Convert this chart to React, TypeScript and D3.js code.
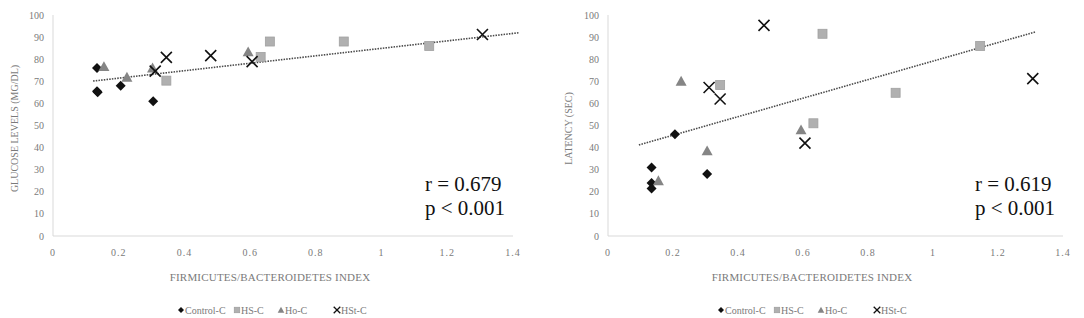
import React from "react";
import * as d3 from "d3";

// ---------- data ----------
const groups = ["Control-C", "HS-C", "Ho-C", "HSt-C"];
const xTicks = [0, 0.2, 0.4, 0.6, 0.8, 1, 1.2, 1.4];
const yTicks = [0, 10, 20, 30, 40, 50, 60, 70, 80, 90, 100];

// Glucose chart
const glucoseControl = [[0.134, 76], [0.134, 65.5], [0.136, 65], [0.206, 68], [0.305, 61]];
const glucoseHS = [[0.345, 70.3], [0.632, 81], [0.66, 88], [0.885, 88], [1.145, 86]];
const glucoseHo = [[0.155, 76.6], [0.225, 71.8], [0.303, 76], [0.594, 83.3]];
const glucoseHSt = [[0.311, 74.6], [0.345, 80.8], [0.48, 81.6], [0.606, 78.9], [1.307, 91.2]];
const glucoseTrend = [[0.122, 70.1], [1.42, 92]];
const glucoseStats = ["r = 0.679", "p < 0.001"];

// Latency chart
const latencyControl = [[0.134, 31], [0.134, 24], [0.134, 21.5], [0.206, 46], [0.305, 28]];
const latencyHS = [[0.345, 68.3], [0.632, 51], [0.66, 91.5], [0.885, 64.8], [1.145, 86]];
const latencyHo = [[0.155, 25], [0.225, 70], [0.305, 38.5], [0.594, 48]];
const latencyHSt = [[0.311, 67.2], [0.345, 62], [0.48, 95.3], [0.606, 42], [1.307, 71.2]];
const latencyTrend = [[0.095, 41.2], [1.314, 92.3]];
const latencyStats = ["r = 0.619", "p < 0.001"];

// ---------- styles ----------
const SERIF = "'Liberation Serif', 'DejaVu Serif', serif";
const TICK = "#7a7a7a";
const AXIS = "#d9d9d9";

type Pt = number[];

function Marker({ kind, x, y, s = 1 }: { kind: number; x: number; y: number; s?: number }) {
  if (kind === 0) {
    const r = 5 * s;
    return <path d={`M${x},${y - r}L${x + r},${y}L${x},${y + r}L${x - r},${y}Z`} fill="#111" />;
  }
  if (kind === 1) {
    const h = 4.5 * s;
    return <rect x={x - h} y={y - h} width={2 * h} height={2 * h} fill="#b0b0b0" stroke="#a0a0a0" strokeWidth={0.8} />;
  }
  if (kind === 2) {
    const w = 5.5 * s;
    return <path d={`M${x},${y - w}L${x + w},${y + w * 0.8}L${x - w},${y + w * 0.8}Z`} fill="#858585" />;
  }
  const r = 5.5 * s;
  return (
    <path d={`M${x - r},${y - r}L${x + r},${y + r}M${x - r},${y + r}L${x + r},${y - r}`} stroke="#111" strokeWidth={1.6 * Math.min(1, s + 0.2)} fill="none" />
  );
}

function Chart({
  left, right, top, bottom, titleX, legendX, yTitle, yTitleX, series, trend, stats,
}: {
  left: number; right: number; top: number; bottom: number; titleX: number; legendX: number;
  yTitle: string; yTitleX: number; series: Pt[][]; trend: Pt[]; stats: string[];
}) {
  const x = d3.scaleLinear().domain([0, 1.4]).range([left, right]);
  const y = d3.scaleLinear().domain([0, 100]).range([bottom, top]);
  const line = d3.line<Pt>().x((d) => x(d[0])).y((d) => y(d[1]));
  const legendOffsets = [0, 56, 100, 156];
  return (
    <g>
      {/* axes */}
      <line x1={left} x2={left} y1={top} y2={bottom} stroke={AXIS} strokeWidth={1} />
      <line x1={left} x2={right} y1={bottom} y2={bottom} stroke={AXIS} strokeWidth={1} />
      {yTicks.map((t) => (
        <text key={"y" + t} x={left - 9} y={y(t)} dy="0.35em" textAnchor="end" fontFamily={SERIF} fontSize={10} fill={TICK}>
          {t}
        </text>
      ))}
      {xTicks.map((t) => (
        <text key={"x" + t} x={x(t)} y={bottom + 20} textAnchor="middle" fontFamily={SERIF} fontSize={10} fill={TICK} letterSpacing={1}>
          {String(t)}
        </text>
      ))}
      <text x={titleX} y={bottom + 45} textAnchor="middle" fontFamily={SERIF} fontSize={11} fill={TICK} letterSpacing={0.2}>
        FIRMICUTES/BACTEROIDETES INDEX
      </text>
      <text transform={`translate(${yTitleX},${(top + bottom) / 2 + 3}) rotate(-90)`} textAnchor="middle" fontFamily={SERIF} fontSize={10} fill={TICK}>
        {yTitle}
      </text>
      {/* trend line */}
      <path d={line(trend) || ""} stroke="#4a4a4a" strokeWidth={1.6} strokeDasharray="1.5,1.2" fill="none" />
      {/* points */}
      {series.map((pts, k) =>
        pts.map((p, i) => <Marker key={k + "-" + i} kind={k} x={x(p[0])} y={y(p[1])} />)
      )}
      {/* stats */}
      {stats.map((s, i) => (
        <text key={s} x={right - 88} y={bottom - 45 + i * 24} fontFamily={SERIF} fontSize={21} fill="#111">
          {s}
        </text>
      ))}
      {/* legend */}
      {groups.map((g, k) => (
        <g key={g}>
          <Marker kind={k} x={legendX + legendOffsets[k] + 3} y={bottom + 74} s={0.6} />
          <text x={legendX + legendOffsets[k] + 7} y={bottom + 77.5} fontFamily={SERIF} fontSize={10} fill={TICK}>
            {g}
          </text>
        </g>
      ))}
    </g>
  );
}

export default function App() {
  return (
    <svg width={1084} height={318} style={{ position: "absolute", left: 0, top: 0, background: "#fff" }}>
      <rect width={1084} height={318} fill="#fff" />
      <Chart
        left={53} right={513} top={15} bottom={236} titleX={270} legendX={178}
        yTitle="GLUCOSE LEVELS (MG/DL)" yTitleX={18}
        series={[glucoseControl, glucoseHS, glucoseHo, glucoseHSt]}
        trend={glucoseTrend} stats={glucoseStats}
      />
      <Chart
        left={608} right={1063} top={15} bottom={236} titleX={812} legendX={718}
        yTitle="LATENCY (SEC)" yTitleX={572}
        series={[latencyControl, latencyHS, latencyHo, latencyHSt]}
        trend={latencyTrend} stats={latencyStats}
      />
    </svg>
  );
}
